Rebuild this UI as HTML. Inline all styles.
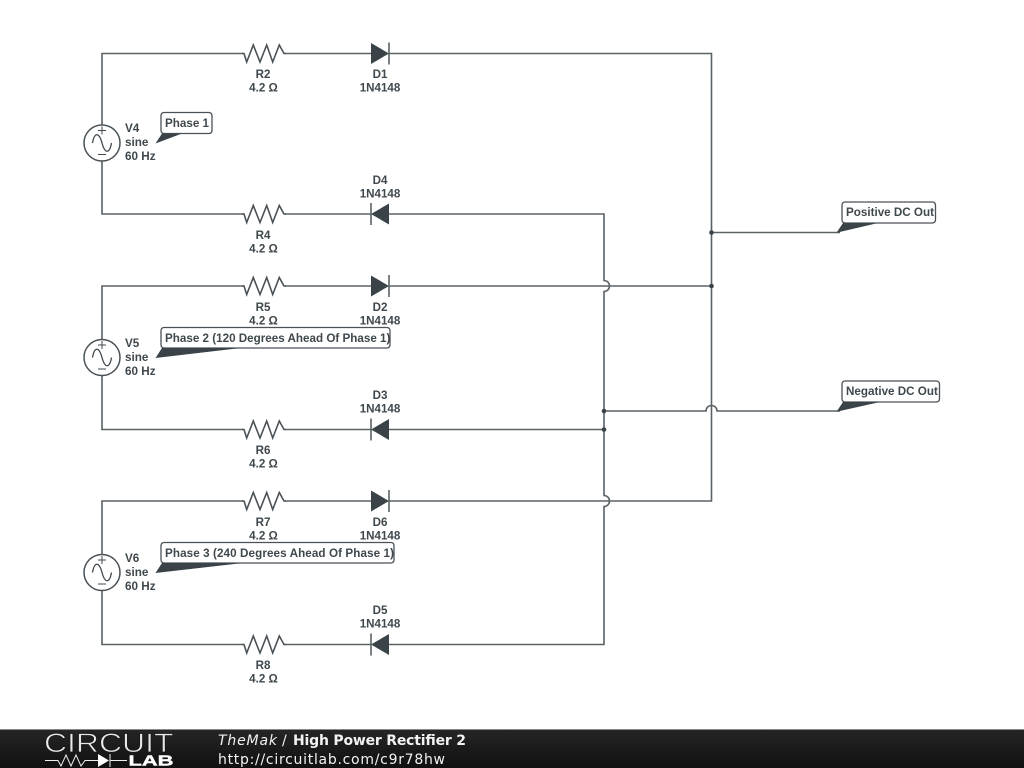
<!DOCTYPE html>
<html><head><meta charset="utf-8"><title>High Power Rectifier 2</title>
<style>
html,body{margin:0;padding:0;background:#fff;width:1024px;height:768px;overflow:hidden}
svg{display:block}
.w{fill:none;stroke:#5a6267;stroke-width:1.6}
.s{fill:none;stroke:#4a5257;stroke-width:1.6;stroke-linejoin:miter}
.b{fill:none;stroke:#5a6267;stroke-width:1.6}
.t{font:bold 11.600px "Liberation Sans",sans-serif;fill:#3f484d;text-anchor:middle}
.l{font:bold 11.700px "Liberation Sans",sans-serif;fill:#3f484d}
.cl{font:bold 11.650px "Liberation Sans",sans-serif;fill:#3f484d}
.c{fill:#fff;stroke:#4a5257;stroke-width:1.3}
.f{fill:#3a4448}
.d{fill:#3a4448}
.ft{font:14px "DejaVu Sans",sans-serif;fill:#f2f2f2}
.fi{font:italic 14px "DejaVu Sans",sans-serif;fill:#f2f2f2}
.fb{font:bold 14px "DejaVu Sans",sans-serif;fill:#f2f2f2}
</style></head><body>
<svg width="1024" height="768" viewBox="0 0 1024 768" xmlns="http://www.w3.org/2000/svg">
<defs>
<linearGradient id="g" x1="0" y1="0" x2="0" y2="1"><stop offset="0" stop-color="#262626"/><stop offset="1" stop-color="#101010"/></linearGradient>
<g id="res"><path class="s" d="M0 0H2L4.700 8.500L11.300 -8.500L18 8.500L24.700 -8.500L30.700 8.500L37.300 -8.500L42 0H44"/></g>
<g id="df"><path class="f" d="M0 -10.500L18 0L0 10.500Z"/><path class="b" d="M18 -11V11"/></g>
<g id="dr"><path class="f" d="M18 -10.500L0 0L18 10.500Z"/><path class="b" d="M0 -11V11"/></g>
<g id="src"><circle r="18" fill="#fff" stroke="#4a5257" stroke-width="1.5"/><path fill="none" stroke="#3f484d" stroke-width="1.3" d="M-9.500 0C-7.500 -11 -3 -11 0 0C3 11 7.500 11 9.500 0"/><path fill="none" stroke="#3f484d" stroke-width="1" d="M-4 -12.500H4M0 -16.500V-8.500M-4 11.500H4"/></g>
</defs>

<!-- wires -->
<path class="w" d="M102 125V53.500H243M285 53.500H371M389 53.500H711.500V501H389"/>
<path class="w" d="M102 161V214H243M285 214H371M389 214H604V280.500A5.500 5.500 0 0 1 604 291.500V495.500A5.500 5.500 0 0 1 604 506.500V644.500H389"/>
<path class="w" d="M102 339V286H243M285 286H371M389 286H711.500"/>
<path class="w" d="M102 375V429.500H243M285 429.500H371M389 429.500H604"/>
<path class="w" d="M102 554V501H243M285 501H371"/>
<path class="w" d="M102 590V644.500H243M285 644.500H371"/>
<path class="w" d="M604 411H706A5.500 5.500 0 0 1 717 411H840"/>
<path class="w" d="M711.500 232.500H840"/>
<circle class="d" cx="711.500" cy="232.500" r="2.300"/>
<circle class="d" cx="711.500" cy="286" r="2.300"/>
<circle class="d" cx="604" cy="411" r="2.300"/>
<circle class="d" cx="604" cy="429.500" r="2.300"/>

<!-- resistors -->
<use href="#res" x="242" y="53.500"/>
<use href="#res" x="242" y="214"/>
<use href="#res" x="242" y="286"/>
<use href="#res" x="242" y="429.500"/>
<use href="#res" x="242" y="501"/>
<use href="#res" x="242" y="644.500"/>

<!-- diodes -->
<use href="#df" x="371" y="53.500"/>
<use href="#dr" x="371" y="214"/>
<use href="#df" x="371" y="286"/>
<use href="#dr" x="371" y="429.500"/>
<use href="#df" x="371" y="501"/>
<use href="#dr" x="371" y="644.500"/>

<!-- sources -->
<use href="#src" x="102" y="143"/>
<use href="#src" x="102" y="357.500"/>
<use href="#src" x="102" y="572.500"/>

<!-- labels -->
<text class="t" x="263" y="78">R2</text><text class="t" x="263.500" y="91.500">4.2 Ω</text>
<text class="t" x="380" y="78">D1</text><text class="t" x="380" y="91.500">1N4148</text>
<text class="t" x="380" y="184">D4</text><text class="t" x="380" y="197.500">1N4148</text>
<text class="t" x="263" y="239">R4</text><text class="t" x="263.500" y="252.500">4.2 Ω</text>
<text class="t" x="263" y="311">R5</text><text class="t" x="263.500" y="324.500">4.2 Ω</text>
<text class="t" x="380" y="311">D2</text><text class="t" x="380" y="324.500">1N4148</text>
<text class="t" x="380" y="399">D3</text><text class="t" x="380" y="412.500">1N4148</text>
<text class="t" x="263" y="454">R6</text><text class="t" x="263.500" y="467.500">4.2 Ω</text>
<text class="t" x="263" y="526">R7</text><text class="t" x="263.500" y="539.500">4.2 Ω</text>
<text class="t" x="380" y="526">D6</text><text class="t" x="380" y="539.500">1N4148</text>
<text class="t" x="380" y="614">D5</text><text class="t" x="380" y="627.500">1N4148</text>
<text class="t" x="263" y="669">R8</text><text class="t" x="263.500" y="682.500">4.2 Ω</text>

<text class="l" x="125" y="132">V4</text><text class="l" x="125" y="146">sine</text><text class="l" x="125" y="160">60 Hz</text>
<text class="l" x="125" y="347">V5</text><text class="l" x="125" y="361">sine</text><text class="l" x="125" y="375">60 Hz</text>
<text class="l" x="125" y="562">V6</text><text class="l" x="125" y="576">sine</text><text class="l" x="125" y="590">60 Hz</text>

<!-- callouts -->
<rect class="c" x="161" y="112.500" width="51" height="21" rx="3"/>
<path class="f" d="M155.500 143.500L162 133.500H182Z"/>
<text class="cl" x="165" y="127">Phase 1</text>

<rect class="c" x="161" y="327.500" width="229" height="20.500" rx="3"/>
<path class="f" d="M155.500 358L162 348H241Z"/>
<text class="cl" x="165" y="342">Phase 2 (120 Degrees Ahead Of Phase 1)</text>

<rect class="c" x="161" y="542.500" width="233" height="20.500" rx="3"/>
<path class="f" d="M155.500 573L162 563H243Z"/>
<text class="cl" x="165" y="557" textLength="229">Phase 3 (240 Degrees Ahead Of Phase 1)</text>

<rect class="c" x="842" y="202" width="93.500" height="21" rx="3"/>
<path class="f" d="M836.500 232.800L843 223H878Z"/>
<text class="cl" x="846" y="216">Positive DC Out</text>

<rect class="c" x="842" y="381" width="97.500" height="21" rx="3"/>
<path class="f" d="M836.500 411.800L843 402H880Z"/>
<text class="cl" x="846" y="395">Negative DC Out</text>

<!-- footer -->
<rect x="0" y="729" width="1024" height="39" fill="url(#g)"/>
<rect x="0" y="729" width="1024" height="1" fill="#8a8a8a"/>
<text x="44" y="752" font-family="Liberation Sans, sans-serif" font-size="26.500" fill="#e8e8e8" stroke="#161616" stroke-width=".7" textLength="129.500" lengthAdjust="spacingAndGlyphs">CIRCUIT</text>
<path fill="none" stroke="#eee" stroke-width="1" d="M45 760.500H58L61 766L66 755L71 766L76 755L81 766L85 760.500H98M110 754V767M110 760.500H127"/>
<path fill="#fff" d="M98 754L109 760.500L98 767Z"/>
<text x="128.500" y="765.500" font-family="Liberation Sans, sans-serif" font-weight="bold" font-size="15" fill="#fff" stroke="#fff" stroke-width=".4" textLength="45" lengthAdjust="spacingAndGlyphs">LAB</text>
<text class="fi" x="218" y="745" textLength="59">TheMak</text>
<text class="ft" x="282" y="745">/</text>
<text class="fb" x="293" y="745" textLength="173">High Power Rectifier 2</text>
<text class="ft" x="218" y="764" textLength="227">http://circuitlab.com/c9r78hw</text>
</svg>
</body></html>
